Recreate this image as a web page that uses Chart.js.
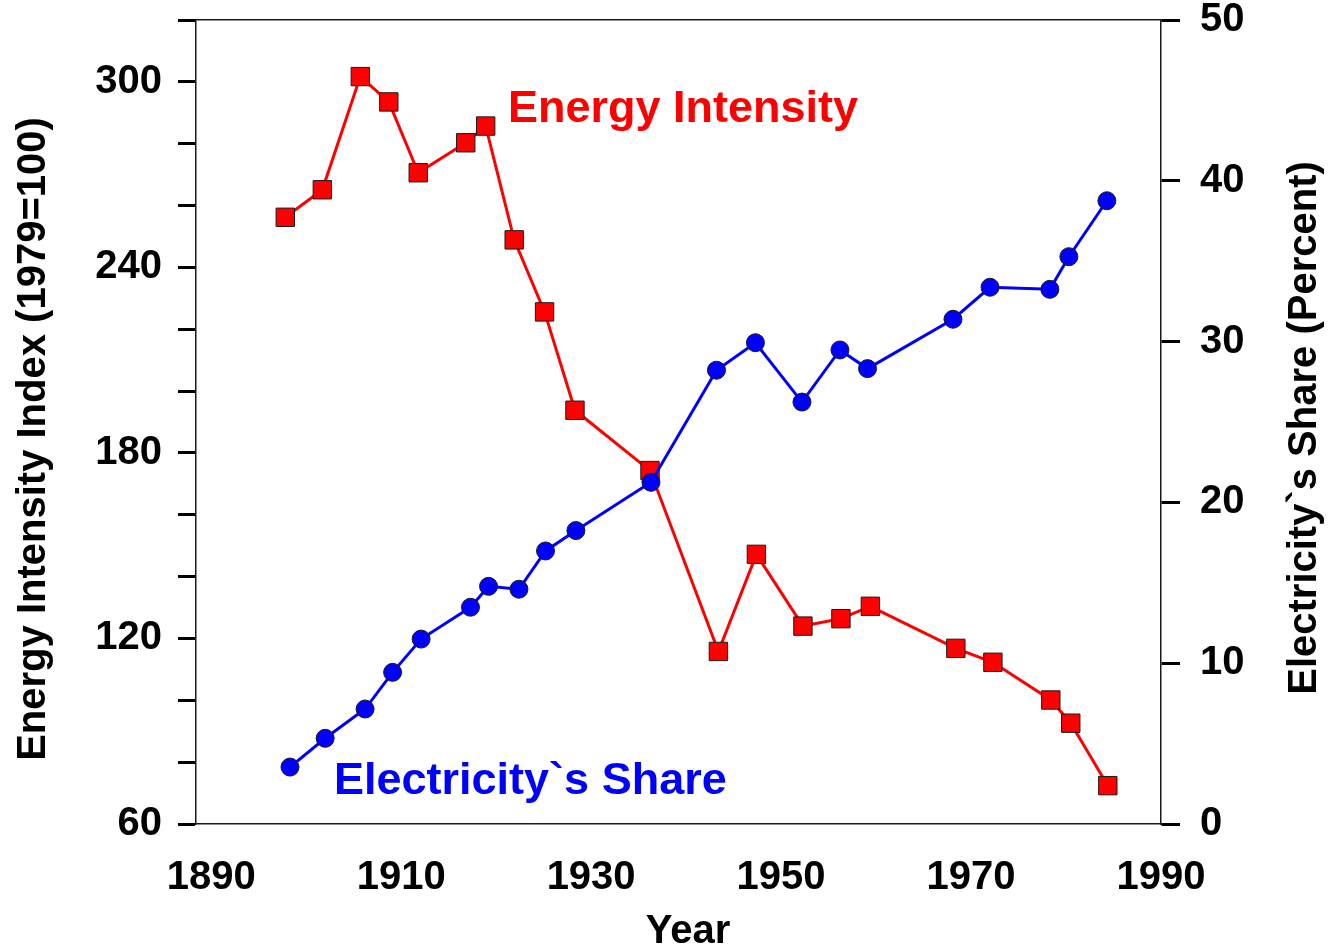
<!DOCTYPE html>
<html>
<head>
<meta charset="utf-8">
<title>Energy Intensity and Electricity's Share</title>
<script src="https://cdn.jsdelivr.net/npm/chart.js"></script>
<style>
  html, body { margin: 0; padding: 0; background: #fff; }
  canvas { display: block; }
</style>
</head>
<body>
<canvas id="chart" width="1329" height="948"></canvas>
<script>
// --- data
const intensityYears = [1897.8, 1901.7, 1905.7, 1908.7, 1911.8, 1916.8, 1918.9, 1921.9, 1925.1, 1928.3, 1936.2,
  1943.4, 1947.4, 1952.3, 1956.3, 1959.4, 1968.4, 1972.3, 1978.4, 1980.5, 1984.4];
const intensityValues = [256.2, 265.1, 301.7, 293.5, 270.6, 280.3, 285.7, 248.9, 225.6, 193.8, 174.3,
  115.8, 147.2, 124.0, 126.4, 130.4, 116.8, 112.3, 100.1, 92.6, 72.4];

const shareYears = [1898.3, 1902.0, 1906.2, 1909.1, 1912.1, 1917.3, 1919.2, 1922.4, 1925.2, 1928.4, 1936.3,
  1943.2, 1947.3, 1952.2, 1956.2, 1959.1, 1968.1, 1972.0, 1978.3, 1980.3, 1984.3];
const shareValues = [3.54, 5.33, 7.15, 9.43, 11.5, 13.48, 14.78, 14.6, 16.98, 18.25, 21.25,
  28.22, 29.93, 26.24, 29.48, 28.32, 31.39, 33.38, 33.25, 35.28, 38.76];

const yearTicks = [1890, 1910, 1930, 1950, 1970, 1990];
const intensityLabelTicks = [60, 120, 180, 240, 300];

const FONT = '"Liberation Sans", Arial, Helvetica, sans-serif';
Chart.defaults.font.family = FONT;
Chart.defaults.color = '#000';

const toPoints = (xs, ys) => xs.map((x, i) => ({ x: x, y: ys[i] }));

// fixed box sizes so the plot area lands where the reference has it
const fixBox = (w, h) => (scale) => {
  if (w !== null) scale.width = w;
  if (h !== null) scale.height = h;
  scale.paddingTop = 0;
  scale.paddingBottom = 0;
  scale.paddingLeft = 0;
  scale.paddingRight = 0;
};

// --- axis titles and the two in-plot labels
const textPlugin = {
  id: 'chartText',
  afterDraw(chart) {
    const c = chart.ctx;
    c.save();
    c.fillStyle = '#000';
    c.font = 'bold 40px ' + FONT;
    c.textAlign = 'center';
    c.textBaseline = 'middle';

    c.save();
    c.translate(34, 439);
    c.rotate(-Math.PI / 2);
    c.fillText('Energy Intensity Index (1979=100)', 0, 0);
    c.restore();

    c.save();
    c.translate(1305, 428);
    c.rotate(-Math.PI / 2);
    c.fillText('Electricity`s Share (Percent)', 0, 0);
    c.restore();

    c.textBaseline = 'alphabetic';
    c.fillText('Year', 688, 943);

    c.textAlign = 'left';
    c.font = 'bold 45px ' + FONT;
    c.fillStyle = '#ff0000';
    c.fillText('Energy Intensity', 508, 122);
    c.fillStyle = '#0000ff';
    c.fillText('Electricity`s Share', 334, 794);
    c.restore();
  }
};

const ctx = document.getElementById('chart').getContext('2d');
new Chart(ctx, {
  type: 'line',
  data: {
    datasets: [
      {
        label: 'Electricity`s Share',
        data: toPoints(shareYears, shareValues),
        yAxisID: 'y2',
        order: 0,
        borderColor: '#0000ff',
        borderWidth: 3,
        backgroundColor: '#0000ff',
        pointStyle: 'circle',
        pointRadius: 9,
        pointBorderColor: '#1a1a1a',
        pointBorderWidth: 1,
        tension: 0
      },
      {
        label: 'Energy Intensity',
        data: toPoints(intensityYears, intensityValues),
        yAxisID: 'y',
        order: 1,
        borderColor: '#ff0000',
        borderWidth: 3,
        backgroundColor: '#ff0000',
        pointStyle: 'rect',
        pointRadius: 13,
        pointBorderColor: '#1a1a1a',
        pointBorderWidth: 1,
        tension: 0
      }
    ]
  },
  options: {
    responsive: false,
    animation: false,
    layout: { padding: 0 },
    plugins: {
      legend: { display: false },
      tooltip: { enabled: false }
    },
    scales: {
      x: {
        type: 'linear',
        position: 'bottom',
        min: 1888.4,
        max: 1990,
        afterBuildTicks: (scale) => { scale.ticks = yearTicks.map(v => ({ value: v })); },
        afterFit: fixBox(null, 124),
        grid: { display: false, drawTicks: false },
        border: { display: true, color: '#1a1a1a', width: 1.5 },
        ticks: {
          autoSkip: false,
          maxRotation: 0,
          padding: 30,
          font: { size: 40, weight: 'bold' },
          callback: (v) => String(v)
        }
      },
      xTop: {
        type: 'linear',
        position: 'top',
        display: true,
        min: 1888.4,
        max: 1990,
        afterFit: fixBox(null, 20),
        grid: { display: false, drawTicks: false },
        border: { display: true, color: '#1a1a1a', width: 1.5 },
        ticks: { display: false }
      },
      y: {
        type: 'linear',
        position: 'left',
        min: 60,
        max: 320,
        afterFit: fixBox(196, null),
        grid: {
          drawOnChartArea: false,
          tickLength: 18,
          tickWidth: 3,
          tickColor: '#000'
        },
        border: { display: true, color: '#1a1a1a', width: 1.5 },
        ticks: {
          stepSize: 20,
          padding: 16,
          font: { size: 40, weight: 'bold' },
          callback: (v) => intensityLabelTicks.includes(v) ? String(v) : ''
        }
      },
      y2: {
        type: 'linear',
        position: 'right',
        min: 0,
        max: 50,
        afterFit: fixBox(168, null),
        grid: {
          drawOnChartArea: false,
          tickLength: 19,
          tickWidth: 3,
          tickColor: '#000'
        },
        border: { display: true, color: '#1a1a1a', width: 1.5 },
        ticks: {
          stepSize: 10,
          padding: 20,
          font: { size: 40, weight: 'bold' },
          callback: (v) => String(v)
        }
      }
    }
  },
  plugins: [textPlugin]
});
</script>
</body>
</html>
